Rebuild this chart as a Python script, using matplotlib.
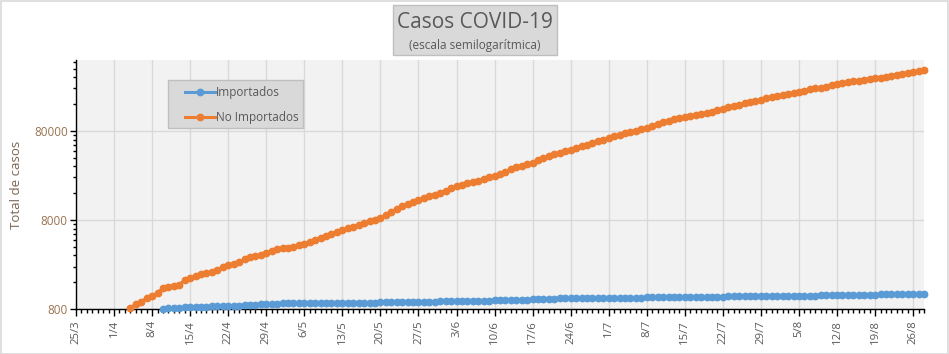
import datetime as dt

import matplotlib
matplotlib.use("Agg")
import matplotlib.dates as mdates
import matplotlib.pyplot as plt
from matplotlib.patches import Rectangle
from matplotlib.ticker import FixedFormatter, FixedLocator, NullFormatter

# Daily cumulative cases (2020).
no_imp_start = dt.date(2020, 4, 4)
no_importados = [
    # April 4-30
    820, 900, 960, 1060, 1120, 1210, 1380, 1420, 1460, 1500, 1690, 1780, 1900,
    1960, 2020, 2080, 2200, 2370, 2480, 2590, 2700, 2890, 3050, 3150, 3270,
    3410, 3580,
    # May
    3780, 3860, 3920, 3990, 4170, 4350, 4530, 4780, 5020, 5280, 5550, 5850,
    6180, 6450, 6750, 7080, 7400, 7700, 8050, 8420, 9100, 9900, 10640, 11400,
    12100, 12750, 13400, 14100, 14750, 15400, 16080,
    # June
    16900, 18100, 19300, 19950, 20600, 21250, 21900, 22900, 24000, 25100,
    26300, 27900, 29700, 31500, 32600, 33800, 35000, 37200, 39500, 41900,
    43600, 45300, 47100, 49000, 51400, 53700, 56100, 58600, 61200, 63900,
    # July
    66600, 69300, 72100, 74900, 77600, 80300, 83300, 86500, 90900, 95600,
    101000, 104500, 108000, 111500, 114800, 117800, 120800, 124000, 128000,
    132000, 136500, 141500, 147000, 153000, 158000, 162500, 167500, 173000,
    179000, 185000, 191000,
    # August 1-28
    197000, 203000, 208000, 213500, 220000, 227000, 234000, 240000, 245000,
    252000, 259000, 267000, 275000, 281000, 287000, 292000, 297000, 304000,
    311000, 318000, 326000, 334000, 342000, 352000, 360000, 369000, 378000,
    388000,
]

imp_start = dt.date(2020, 4, 10)
importados = [
    # April 10-30
    805, 812, 818, 825, 832, 838, 845, 849, 852, 855, 858, 862, 866, 870, 875,
    880, 886, 895, 903, 910, 915,
    # May
    920, 924, 927, 930, 933, 936, 937, 938, 938, 939, 939, 940, 940, 941, 941,
    942, 942, 943, 943, 958, 962, 963, 964, 965, 966, 967, 968, 969, 970, 971,
    973,
    # June
    980, 982, 990, 991, 992, 993, 994, 995, 996, 1008, 1012, 1014, 1016, 1018,
    1020, 1022, 1025, 1027, 1028, 1030, 1040, 1050, 1052, 1054, 1055, 1056,
    1057, 1058, 1059, 1060,
    # July
    1061, 1062, 1063, 1064, 1065, 1066, 1067, 1080, 1082, 1083, 1084, 1085,
    1086, 1087, 1088, 1089, 1090, 1091, 1092, 1093, 1094, 1100, 1110, 1118,
    1120, 1121, 1122, 1123, 1124, 1125, 1126,
    # August 1-28
    1127, 1128, 1129, 1130, 1131, 1132, 1133, 1134, 1135, 1140, 1148, 1150,
    1151, 1152, 1153, 1154, 1155, 1156, 1158, 1170, 1176, 1178, 1179, 1180,
    1181, 1182, 1183, 1184,
]

y_ticks = [800, 8000, 80000]
axis_start = dt.date(2020, 3, 25)
axis_end = dt.date(2020, 8, 28)

BLUE = "#5B9BD5"
ORANGE = "#ED7D31"
TEXT = "#595959"

plt.rcParams["font.family"] = ["Open Sans", "DejaVu Sans"]


def day_range(start, n):
    return [start + dt.timedelta(days=k) for k in range(n)]


fig = plt.figure(figsize=(9.49, 3.54), dpi=100)
W, H = 949, 354
# plot area in pixels: x 76..924, y 60..309
ax = fig.add_axes([76 / W, 1 - 309 / H, 848 / W, 249 / H])
ax.set_facecolor("#F2F2F2")

ax.plot(day_range(imp_start, len(importados)), importados, "-o", color=BLUE,
        lw=2.2, ms=4.6, label="Importados", clip_on=False, zorder=3)
ax.plot(day_range(no_imp_start, len(no_importados)), no_importados, "-o",
        color=ORANGE, lw=2.2, ms=4.6, label="No Importados", clip_on=False,
        zorder=3)

ax.set_yscale("log")
ax.set_ylim(800, 500000)
ax.set_xlim(axis_start, axis_end)

ax.yaxis.set_major_locator(FixedLocator(y_ticks))
ax.yaxis.set_major_formatter(FixedFormatter([str(v) for v in y_ticks]))
minors = [t * k for t in y_ticks for k in range(2, 10)]
ax.yaxis.set_minor_locator(FixedLocator(minors))
ax.yaxis.set_minor_formatter(NullFormatter())

weeks = [axis_start + dt.timedelta(days=7 * k) for k in range(23)]
ax.set_xticks(weeks)
ax.set_xticklabels([f"{d.day}/{d.month}" for d in weeks], rotation=90)
ax.xaxis.set_minor_locator(mdates.DayLocator())

ax.grid(True, which="major", color="#D9D9D9", lw=1.0)
ax.set_axisbelow(True)
for side in ("top", "right"):
    ax.spines[side].set_visible(False)
for side in ("left", "bottom"):
    ax.spines[side].set_color("black")
    ax.spines[side].set_linewidth(1.0)

ax.tick_params(axis="y", which="major", length=4, width=1, colors="black",
               labelcolor="#9A7250", labelsize=8.5, pad=2)
ax.tick_params(axis="y", which="minor", length=2.5, width=1, colors="black")
ax.tick_params(axis="x", which="major", length=5, width=1, colors="black",
               labelcolor=TEXT, labelsize=8.2, pad=3)
ax.tick_params(axis="x", which="minor", length=3, width=1, colors="black")

ax.set_ylabel("Total de casos", color="#7A6552", fontsize=9.5, labelpad=8)

# legend: grey box drawn separately, entries without frame
ax.add_patch(Rectangle(((168 - 76) / 848, (309 - 128) / 249), 135 / 848,
                       48 / 249, transform=ax.transAxes, facecolor="#D9D9D9",
                       edgecolor="#BFBFBF", lw=1, zorder=4, clip_on=False))
leg = ax.legend(loc="upper left", bbox_to_anchor=((185 - 76) / 848, (309 - 86) / 249),
                borderaxespad=0, borderpad=0, frameon=False, fontsize=8.5,
                handlelength=2.5, labelspacing=1.0, handletextpad=0.1)
leg.set_zorder(5)
for t in leg.get_texts():
    t.set_color(TEXT)

# title box
fig.patches.append(Rectangle((393 / W, 1 - 55 / H), 164 / W, 50 / H,
                             transform=fig.transFigure, facecolor="#D9D9D9",
                             edgecolor="#BFBFBF", lw=1))
fig.text(475 / W, 1 - 22 / H, "Casos COVID-19", ha="center", va="center",
         fontsize=15, color=TEXT)
fig.text(475 / W, 1 - 45 / H, "(escala semilogarítmica)", ha="center",
         va="center", fontsize=8.5, color=TEXT)

# outer chart frame
fig.patches.append(Rectangle((0.5 / W, 0.5 / H), (W - 1.5) / W, (H - 1.5) / H,
                             transform=fig.transFigure, facecolor="none",
                             edgecolor="#D9D9D9", lw=1.2))

fig.savefig("out.png", dpi=100)
